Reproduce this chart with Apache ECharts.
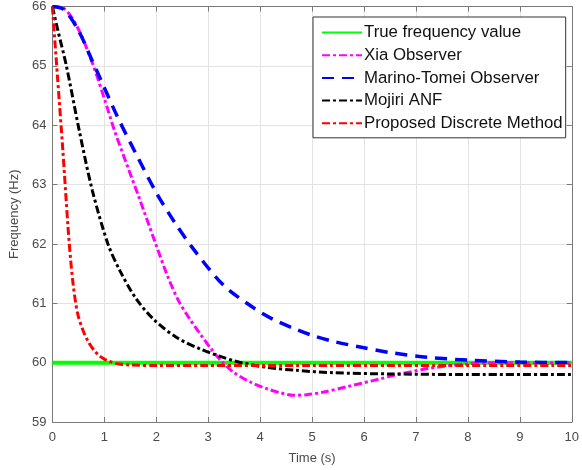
<!DOCTYPE html>
<html>
<head>
<meta charset="utf-8">
<script src="https://cdn.jsdelivr.net/npm/echarts@6/dist/echarts.min.js"></script>
<style>
html,body{margin:0;padding:0;background:#fff;}
#chart{width:582px;height:470px;}
</style>
</head>
<body>
<div id="chart"></div>
<script>
// ---- data ----
var seriesNames = ['True frequency value', 'Xia Observer', 'Marino-Tomei Observer', 'Mojiri ANF', 'Proposed Discrete Method'];

var trueT = [0, 10];
var trueF = [60, 60];

var xiaT = [0, 0.22, 0.5, 0.79, 1.0, 1.2, 1.45, 1.67, 1.99, 2.2, 2.43, 2.65, 2.85, 3.05, 3.25, 3.5, 3.82, 4.13, 4.4, 4.64, 4.9, 5.2, 5.7, 6.28, 6.6, 7.23, 7.85, 8.5, 9.2, 10];
var xiaF = [66, 65.97, 65.62, 65.0, 64.45, 63.9, 63.3, 62.78, 62.0, 61.5, 61.04, 60.73, 60.48, 60.24, 60.03, 59.83, 59.67, 59.56, 59.49, 59.45, 59.46, 59.5, 59.6, 59.72, 59.79, 59.9, 59.97, 60.0, 60.0, 60.0];

var marinoT = [0, 0.22, 0.5, 0.76, 0.94, 1.26, 1.58, 1.99, 2.35, 2.71, 3.3, 3.88, 4.25, 4.64, 5.0, 5.4, 6.0, 6.5, 7.23, 8.04, 9.0, 10];
var marinoF = [66, 65.95, 65.6, 65.1, 64.75, 64.13, 63.57, 62.88, 62.37, 61.92, 61.3, 60.92, 60.73, 60.58, 60.46, 60.36, 60.25, 60.17, 60.09, 60.04, 60.01, 60.0];

var mojiriT = [0, 0.1, 0.27, 0.52, 0.77, 1.07, 1.3, 1.61, 1.96, 2.4, 2.85, 3.5, 4.13, 4.7, 5.4, 6.5, 8, 10];
var mojiriF = [66, 65.62, 65.0, 63.9, 62.9, 62.0, 61.55, 61.08, 60.72, 60.42, 60.23, 60.03, 59.92, 59.87, 59.83, 59.81, 59.8, 59.8];

var proposedT = [0, 0.1, 0.2, 0.3, 0.35, 0.4, 0.45, 0.5, 0.6, 0.7, 0.8, 0.9, 1.0, 1.1, 1.25, 1.5, 2, 3, 5, 10];
var proposedF = [66, 64.8, 63.6, 62.3, 61.75, 61.32, 61.0, 60.78, 60.52, 60.34, 60.21, 60.12, 60.06, 60.02, 59.98, 59.96, 59.95, 59.95, 59.95, 59.95];

var xTicks = [0,1,2,3,4,5,6,7,8,9,10];
var yTicks = [59,60,61,62,63,64,65,66];

function pairs(t, f){ return t.map(function(v,i){ return [v, f[i]]; }); }

var FONT = 'Liberation Sans, Arial, sans-serif';
var chart = echarts.init(document.getElementById('chart'), null, {renderer:'canvas'});

var gridColor = '#e3e3e3';
var axisColor = '#7a7a7a';
var labelColor = '#4a4a4a';

function mkSeries(name, t, f, color, width, dash, z){
  return {
    name: name, type: 'line', data: pairs(t, f),
    showSymbol: false, symbol: 'none',
    smooth: 0.3,
    lineStyle: {color: color, width: width, type: dash},
    itemStyle: {color: color},
    z: z, animation: false
  };
}

var option = {
  animation: false,
  backgroundColor: '#fff',
  grid: {left: 48, right: 6, top: 5, bottom: 46, containLabel: false},
  legend: {
    orient: 'vertical',
    left: 313, top: 17,
    padding: [7, 3, 6, 8],
    itemGap: 5.7,
    itemWidth: 40, itemHeight: 16,
    backgroundColor: '#fff',
    borderColor: '#333', borderWidth: 1,
    itemStyle: {opacity: 0},
    textStyle: {fontFamily: FONT, fontSize: 16.8, color: '#111', padding: [0,0,0,-3]},
    data: seriesNames
  },
  xAxis: [{
    type: 'value', min: 0, max: 10, interval: 1,
    name: 'Time (s)', nameLocation: 'middle', nameGap: 30,
    nameTextStyle: {fontFamily: FONT, fontSize: 13, color: labelColor},
    axisLine: {show: true, onZero: false, lineStyle: {color: axisColor, width: 1}},
    axisTick: {show: true, inside: true, length: 5, lineStyle: {color: axisColor}},
    axisLabel: {fontFamily: FONT, fontSize: 13, color: labelColor, margin: 9,
      formatter: function(v){ return xTicks.indexOf(v) >= 0 ? String(v) : ''; }},
    splitLine: {show: true, lineStyle: {color: gridColor, width: 1}}
  }, {
    type: 'value', min: 0, max: 10, interval: 1, position: 'top',
    axisLine: {show: true, onZero: false, lineStyle: {color: axisColor, width: 1}},
    axisTick: {show: true, inside: true, length: 5, lineStyle: {color: axisColor}},
    axisLabel: {show: false}, splitLine: {show: false}
  }],
  yAxis: [{
    type: 'value', min: 59, max: 66, interval: 1,
    name: 'Frequency (Hz)', nameLocation: 'middle', nameGap: 29, nameRotate: 90,
    nameTextStyle: {fontFamily: FONT, fontSize: 13, color: labelColor},
    axisLine: {show: true, onZero: false, lineStyle: {color: axisColor, width: 1}},
    axisTick: {show: true, inside: true, length: 5, lineStyle: {color: axisColor}},
    axisLabel: {fontFamily: FONT, fontSize: 13, color: labelColor, margin: 6,
      formatter: function(v){ return yTicks.indexOf(v) >= 0 ? String(v) : ''; }},
    splitLine: {show: true, lineStyle: {color: gridColor, width: 1}}
  }, {
    type: 'value', min: 59, max: 66, interval: 1, position: 'right',
    axisLine: {show: true, onZero: false, lineStyle: {color: axisColor, width: 1}},
    axisTick: {show: true, inside: true, length: 5, lineStyle: {color: axisColor}},
    axisLabel: {show: false}, splitLine: {show: false}
  }],
  series: [
    mkSeries(seriesNames[0], trueT, trueF, '#00ff00', 4, 'solid', 2),
    mkSeries(seriesNames[1], xiaT, xiaF, '#ff00ff', 3, [8, 3, 3, 3], 3),
    mkSeries(seriesNames[2], marinoT, marinoF, '#0000ff', 3.5, [12, 8], 4),
    mkSeries(seriesNames[3], mojiriT, mojiriF, '#000000', 3, [8, 3, 3, 3], 5),
    mkSeries(seriesNames[4], proposedT, proposedF, '#ff0000', 3, [8, 3, 3, 3], 6)
  ]
};
chart.setOption(option);
</script>
</body>
</html>
